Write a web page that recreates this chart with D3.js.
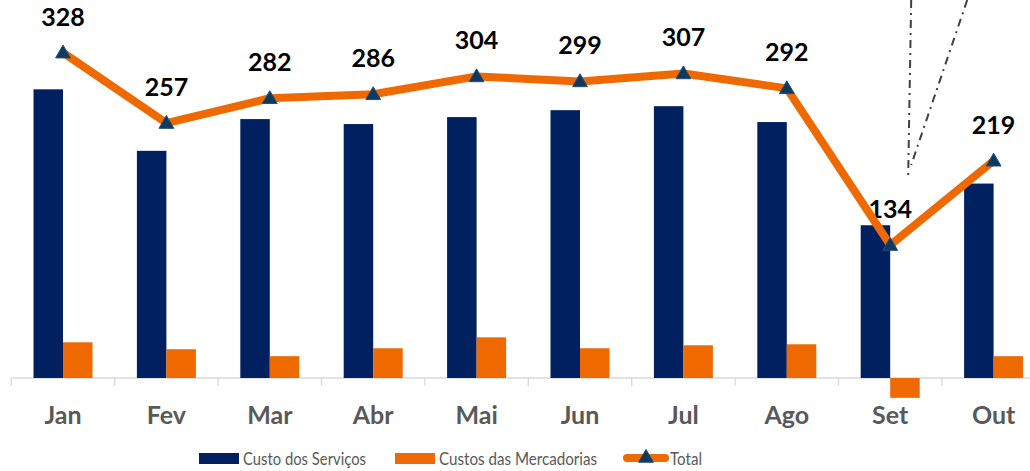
<!DOCTYPE html>
<html><head><meta charset="utf-8">
<script src="https://cdn.jsdelivr.net/npm/d3@7"></script>
<style>
html,body{margin:0;padding:0;background:#fff;}
svg{display:block;font-family:Lato,"Open Sans",sans-serif;}
</style></head>
<body>
<svg id="chart" width="1030" height="471"></svg>
<script>
const categories = ["Jan","Fev","Mar","Abr","Mai","Jun","Jul","Ago","Set","Out"];
const custoServicos = [291, 229, 261, 256, 263, 270, 274, 258, 154, 196];
const custoMercadorias = [36, 29, 22, 30, 41, 30, 33, 34, -20, 22];
const total = [328, 257, 282, 286, 304, 299, 307, 292, 134, 219];
const seriesNames = ["Custo dos Serviços", "Custos das Mercadorias", "Total"];

const BLUE = "#002060", ORANGE = "#EE6A00", MARK = "#0F3A60";
const svg = d3.select("#chart");

const x = d3.scaleBand().domain(categories).range([11.3, 11.3 + 103.4 * 10]).padding(0);
const k = 0.992, base = 378;
const y = d3.scaleLinear().domain([0, 328]).range([base, base - 328 * k]);
const bw = 29.5;
const cx = c => x(c) + x.bandwidth() / 2;

// axis
const axis = d3.axisBottom(x).tickSize(0).tickFormat(d => d);
const gAx = svg.append("g").attr("transform", `translate(0,${y(0)})`).call(axis);
gAx.select(".domain").attr("stroke", "#d9d9d9").attr("stroke-width", 1.3).attr("d", `M${x.range()[0]},0H1030`);
gAx.selectAll(".tick text").attr("dy", 0).attr("y", 46)
  .attr("fill", "#595959").attr("font-size", 25).attr("font-weight", 700)
  .attr("font-family", "Lato, sans-serif");
svg.append("g").selectAll("line").data(categories).join("line")
  .attr("x1", d => x(d)).attr("x2", d => x(d))
  .attr("y1", y(0)).attr("y2", y(0) + 8)
  .attr("stroke", "#d9d9d9").attr("stroke-width", 1.3);

// bars
svg.append("g").selectAll("rect").data(categories).join("rect")
  .attr("x", d => cx(d) - bw).attr("width", bw)
  .attr("y", (d, i) => y(Math.max(0, custoServicos[i])))
  .attr("height", (d, i) => Math.abs(y(custoServicos[i]) - y(0)))
  .attr("fill", BLUE);
svg.append("g").selectAll("rect").data(categories).join("rect")
  .attr("x", d => cx(d)).attr("width", bw)
  .attr("y", (d, i) => y(Math.max(0, custoMercadorias[i])))
  .attr("height", (d, i) => Math.abs(y(custoMercadorias[i]) - y(0)))
  .attr("fill", ORANGE);

// decorative dash-dot lines
const ann = svg.append("g").attr("stroke", "#404040").attr("stroke-width", 2)
  .attr("stroke-dasharray", "8,5,2,5").attr("fill", "none");
ann.append("line").attr("x1", cx("Set") + 21).attr("y1", 0).attr("x2", cx("Set") + 18).attr("y2", 175);
ann.append("line").attr("x1", cx("Set") + 77).attr("y1", 0).attr("x2", cx("Set") + 21).attr("y2", 165);

// data labels
svg.append("g").selectAll("text").data(categories).join("text")
  .attr("x", d => cx(d)).attr("y", (d, i) => y(total[i]) - 27)
  .attr("text-anchor", "middle").attr("font-size", 25).attr("font-weight", 700)
  .attr("fill", "#000").text((d, i) => total[i]);

// total line
const line = d3.line().x(d => cx(d)).y((d, i) => y(total[i]));
svg.append("path").datum(categories).attr("d", line)
  .attr("fill", "none").attr("stroke", ORANGE).attr("stroke-width", 8).attr("stroke-linejoin", "round");
const tri = d3.symbol().type(d3.symbolTriangle).size(95);
svg.append("g").selectAll("path").data(categories).join("path")
  .attr("transform", (d, i) => `translate(${cx(d)},${y(total[i]) + 1})`)
  .attr("d", tri).attr("fill", MARK).attr("stroke", "#1f4e79").attr("stroke-width", 1);

// legend
const lg = svg.append("g").attr("font-size", 17).attr("fill", "#595959");
lg.append("rect").attr("x", 199).attr("y", 453).attr("width", 40).attr("height", 11).attr("fill", BLUE);
lg.append("text").attr("x", 243).attr("y", 465).attr("textLength", 123).attr("lengthAdjust", "spacingAndGlyphs").text(seriesNames[0]);
lg.append("rect").attr("x", 395).attr("y", 453).attr("width", 40).attr("height", 11).attr("fill", ORANGE);
lg.append("text").attr("x", 439).attr("y", 465).attr("textLength", 158).attr("lengthAdjust", "spacingAndGlyphs").text(seriesNames[1]);
lg.append("line").attr("x1", 627).attr("x2", 665).attr("y1", 458).attr("y2", 458)
  .attr("stroke", ORANGE).attr("stroke-width", 8).attr("stroke-linecap", "round");
lg.append("path").attr("transform", "translate(646,458)").attr("d", tri).attr("fill", MARK).attr("stroke", "#1f4e79");
lg.append("text").attr("x", 670).attr("y", 465).attr("textLength", 32).attr("lengthAdjust", "spacingAndGlyphs").text(seriesNames[2]);
</script>
</body></html>
